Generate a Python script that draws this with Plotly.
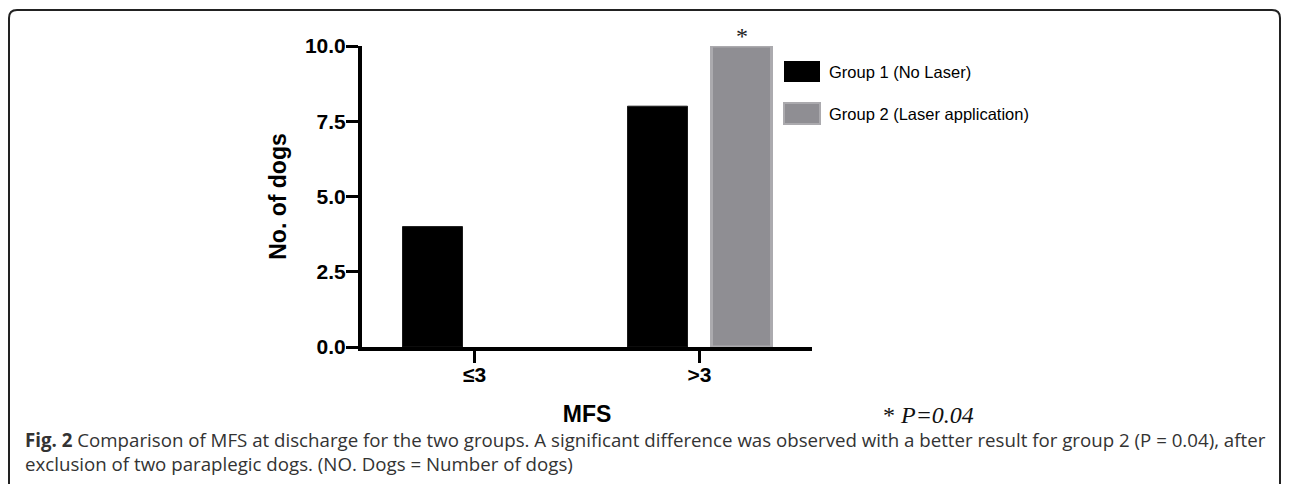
import plotly.graph_objects as go

categories = ["≤3", ">3"]
group1 = [4, 8]
group2 = [0, 10]
series_names = ["Group 1 (No Laser)", "Group 2 (Laser application)"]
y_tick_vals = [0, 2.5, 5, 7.5, 10]
y_tick_text = ["0.0", "2.5", "5.0", "7.5", "10.0"]
sig_marker = "*"
p_text = "* <i>P=0.04</i>"
caption = ("<b>Fig. 2</b> Comparison of MFS at discharge for the two groups. A significant difference was observed "
           "with a better result for group 2 (P = 0.04), after<br>exclusion of two paraplegic dogs. (NO. Dogs = Number of dogs)")

# page has an 8px body margin; figure is sized so the page does not scroll
OFF = 8
W, H = 1290 - 2 * OFF, 493 - 2 * OFF
L, R, T, B = 354, 804, 38, 339  # plot area in figure pixels


def px(xp):
    """page x pixel -> paper coordinate"""
    return (xp - OFF - L) / (R - L)


def py(yp):
    """page y pixel -> paper coordinate"""
    return (B - (yp - OFF)) / (B - T)


colors = ["#000000", "#8f8e93"]
line_colors = ["#1a1a1a", "#abaaae"]

fig = go.Figure()
fig.add_trace(go.Bar(x=categories, y=group1, name=series_names[0],
                     marker=dict(color=colors[0],
                                 line=dict(color=line_colors[0], width=[1 if v > 0 else 0 for v in group1]))))
fig.add_trace(go.Bar(x=categories, y=group2, name=series_names[1],
                     marker=dict(color=colors[1],
                                 line=dict(color=line_colors[1], width=[3 if v > 0 else 0 for v in group2]))))

fig.update_layout(
    width=W, height=H,
    margin=dict(l=L, r=W - R, t=T, b=H - B, pad=0),
    paper_bgcolor="white", plot_bgcolor="white",
    barmode="group", bargap=0.2533, bargroupgap=0.2857,
    showlegend=False,
    xaxis=dict(type="category", range=[-0.5, 1.5], showline=True, linecolor="#000", linewidth=4,
               ticks="outside", ticklen=12, tickwidth=3, tickcolor="#000",
               tickvals=categories, ticktext=["<b>%s</b>" % c for c in categories],
               tickfont=dict(family="Liberation Sans", size=21, color="#000"),
               ticklabelstandoff=-6,
               showgrid=False, zeroline=False,
               title=dict(text="<b>MFS</b>", font=dict(family="Liberation Sans", size=23, color="#000"),
                          standoff=22)),
    yaxis=dict(range=[0, 10], showline=True, linecolor="#000", linewidth=4,
               ticks="outside", ticklen=12, tickwidth=3, tickcolor="#000",
               tickvals=y_tick_vals, ticktext=["<b>%s</b>" % t for t in y_tick_text],
               tickfont=dict(family="Liberation Sans", size=21, color="#000"),
               ticklabelstandoff=-4,
               showgrid=False, zeroline=False,
               title=dict(text="<b>No. of dogs</b>", font=dict(family="Liberation Sans", size=23, color="#000"),
                          standoff=13)),
    font=dict(family="Liberation Sans"),
)

# legend drawn manually
legend_rows = [(61, 82, 72), (103, 124, 114)]
for i, (y0, y1, yc) in enumerate(legend_rows):
    fig.add_shape(type="rect", xref="paper", yref="paper",
                  x0=px(784), x1=px(820), y0=py(y1), y1=py(y0),
                  fillcolor=colors[i], line=dict(color=line_colors[i], width=2 if i else 0))
    fig.add_annotation(xref="paper", yref="paper", x=px(827), y=py(yc), text=series_names[i],
                       showarrow=False, xanchor="left", yanchor="middle",
                       font=dict(family="Liberation Sans", size=16.5, color="#000"))

# significance asterisk above group 2 bar
fig.add_annotation(xref="x", yref="y", x=categories[1], y=group2[1], text=sig_marker, xshift=42, yshift=-5,
                   showarrow=False, yanchor="bottom",
                   font=dict(family="Liberation Serif", size=24, color="#222"))

fig.add_annotation(xref="paper", yref="paper", x=px(928), y=py(415), text=p_text, showarrow=False,
                   xanchor="center", yanchor="middle",
                   font=dict(family="Liberation Serif", size=24, color="#111"))

fig.add_annotation(xref="paper", yref="paper", x=px(23), y=py(451), text=caption, showarrow=False,
                   xanchor="left", yanchor="middle", align="left",
                   font=dict(family="Open Sans", size=18.7, color="#333"))

# rounded frame (page coordinates)
fl, fr, ft, fb, rr = 9, 1280, 10, 484, 8
path = (f"M {px(fl)},{py(fb)} L {px(fl)},{py(ft + rr)} Q {px(fl)},{py(ft)} {px(fl + rr)},{py(ft)} "
        f"L {px(fr - rr)},{py(ft)} Q {px(fr)},{py(ft)} {px(fr)},{py(ft + rr)} L {px(fr)},{py(fb)}")
fig.add_shape(type="path", xref="paper", yref="paper", path=path, line=dict(color="#222", width=2))

fig.write_html("out.html")
